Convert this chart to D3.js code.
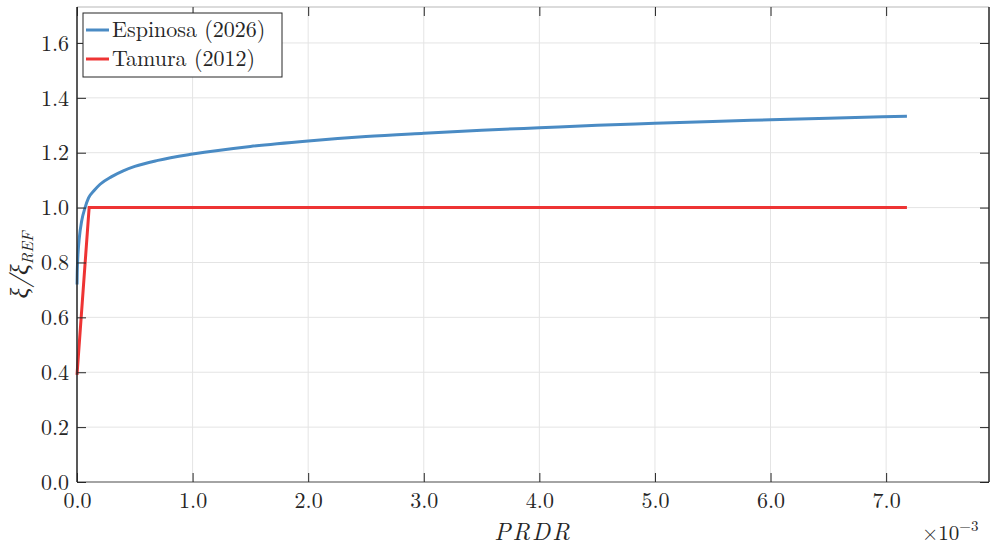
<!DOCTYPE html>
<html><head><meta charset="utf-8">
<script src="https://cdn.jsdelivr.net/npm/d3@7"></script>
<style>body{margin:0;background:#fff}svg{display:block}</style>
</head><body><svg id="c" width="990" height="547"></svg>
<script>
// x in units of 1e-3
const espX = [0.0005, 0.002, 0.005, 0.01, 0.02, 0.04, 0.07, 0.1, 0.15, 0.2, 0.3, 0.4, 0.5, 0.7, 1.0, 1.5, 2.0, 2.5, 3.0, 3.5, 4.0, 4.5, 5.0, 5.5, 6.0, 6.5, 7.18];
const espY = [0.72, 0.76, 0.80, 0.84, 0.89, 0.95, 1.00, 1.035, 1.063, 1.085, 1.113, 1.134, 1.150, 1.172, 1.195, 1.223, 1.243, 1.259, 1.271, 1.282, 1.291, 1.300, 1.307, 1.314, 1.320, 1.326, 1.333];
const tamX = [0.0, 0.105, 7.18];
const tamY = [0.39, 1.0, 1.0];
const xTicks = [0, 1, 2, 3, 4, 5, 6, 7];
const yTicks = [0, 0.2, 0.4, 0.6, 0.8, 1.0, 1.2, 1.4, 1.6];
const seriesNames = ["Espinosa (2026)", "Tamura (2012)"];
const colors = ["#4A8BC4", "#EE3434"];

const FONT = "'Latin Modern Roman', 'CMU Serif', 'Liberation Serif', 'DejaVu Serif', 'Noto Serif', 'Tinos', 'FreeSerif', 'Nimbus Roman', 'TeX Gyre Termes', 'Times New Roman', Times, serif";
const L = 77, R = 989, T = 7, B = 482;
const svg = d3.select("#c");
const x = d3.scaleLinear().domain([0, 7.89]).range([L, R]);
const y = d3.scaleLinear().domain([0, 1.731]).range([B, T]);

// grid
const g = svg.append("g");
g.selectAll("line.vx").data(xTicks).join("line")
  .attr("x1", d => x(d)).attr("x2", d => x(d)).attr("y1", T).attr("y2", B)
  .attr("stroke", "#e4e4e4").attr("stroke-width", 1);
g.selectAll("line.hy").data(yTicks).join("line")
  .attr("y1", d => y(d)).attr("y2", d => y(d)).attr("x1", L).attr("x2", R)
  .attr("stroke", "#e4e4e4").attr("stroke-width", 1);

// lines
const esp = espX.map((v, i) => [v, espY[i]]);
const tam = tamX.map((v, i) => [v, tamY[i]]);
svg.append("path").datum(esp).attr("d", d3.line().x(d => x(d[0])).y(d => y(d[1])).curve(d3.curveMonotoneX))
  .attr("fill", "none").attr("stroke", colors[0]).attr("stroke-width", 3);
svg.append("path").datum(tam).attr("d", d3.line().x(d => x(d[0])).y(d => y(d[1])))
  .attr("fill", "none").attr("stroke", colors[1]).attr("stroke-width", 3);

// frame
svg.append("line").attr("x1", L).attr("x2", R).attr("y1", T).attr("y2", T).attr("stroke", "#cfcfcf").attr("stroke-width", 1.5);
svg.append("line").attr("x1", L).attr("x2", R).attr("y1", B).attr("y2", B).attr("stroke", "#8a8a8a").attr("stroke-width", 1.5);
svg.append("line").attr("x1", L).attr("x2", L).attr("y1", T).attr("y2", B).attr("stroke", "#262626").attr("stroke-width", 1.5);
svg.append("line").attr("x1", R).attr("x2", R).attr("y1", T).attr("y2", B).attr("stroke", "#262626").attr("stroke-width", 1.5);

// axes (ticks inward)
const xAx = d3.axisBottom(x).tickValues(xTicks).tickSize(-9).tickFormat(d3.format(".1f"));
const xg = svg.append("g").attr("transform", `translate(0,${B})`).call(xAx);
xg.select(".domain").remove();
xg.selectAll("line").attr("stroke", "#262626");
xg.selectAll("text").attr("dy", 0).attr("y", 26);
const xTop = d3.axisTop(x).tickValues(xTicks).tickSize(-9).tickFormat("");
const xt = svg.append("g").attr("transform", `translate(0,${T})`).call(xTop);
xt.select(".domain").remove(); xt.selectAll("line").attr("stroke", "#262626");

const yAx = d3.axisLeft(y).tickValues(yTicks).tickSize(-9).tickFormat(d3.format(".1f"));
const yg = svg.append("g").attr("transform", `translate(${L},0)`).call(yAx);
yg.select(".domain").remove();
yg.selectAll("line").attr("stroke", "#262626");
yg.selectAll("text").attr("x", -8).attr("dy", "0.33em");
const yR = d3.axisRight(y).tickValues(yTicks).tickSize(-9).tickFormat("");
const yr = svg.append("g").attr("transform", `translate(${R},0)`).call(yR);
yr.select(".domain").remove(); yr.selectAll("line").attr("stroke", "#262626");
[xg, yg].forEach(a => a.attr("font-family", null).attr("font-size", null)
  .selectAll("text").style("font-family", FONT).style("font-size", "22px").style("fill", "#262626"));

// labels
svg.append("text").attr("x", (L + R) / 2).attr("y", 540).attr("text-anchor", "middle")
  .style("font-family", FONT).style("font-size", "24px").style("font-style", "italic").attr("letter-spacing", 2)
  .style("fill", "#262626").text("PRDR");
const yl = svg.append("text").attr("transform", "translate(28,265) rotate(-90)").attr("text-anchor", "middle")
  .style("font-family", FONT).style("font-size", "25px").style("font-style", "italic").style("fill", "#262626");
yl.append("tspan").text("ξ/ξ");
yl.append("tspan").style("font-size", "16px").attr("dy", 5).text("REF");
const ex = svg.append("text").attr("x", 922).attr("y", 540).style("font-family", FONT).style("font-size", "21px").style("fill", "#262626");
ex.append("tspan").text("×10");
ex.append("tspan").style("font-size", "15px").attr("dy", -9).text("−3");

// legend
const lg = svg.append("g");
lg.append("rect").attr("x", 83).attr("y", 13).attr("width", 199).attr("height", 64)
  .attr("fill", "#fff").attr("stroke", "#262626").attr("stroke-width", 1);
seriesNames.forEach((n, i) => {
  const yy = 30 + i * 29;
  lg.append("line").attr("x1", 86).attr("x2", 109).attr("y1", yy).attr("y2", yy)
    .attr("stroke", colors[i]).attr("stroke-width", 3);
  lg.append("text").attr("x", 112).attr("y", yy + 7).style("font-family", FONT).style("font-size", "22px")
    .style("fill", "#262626").text(n);
});
</script></body></html>
